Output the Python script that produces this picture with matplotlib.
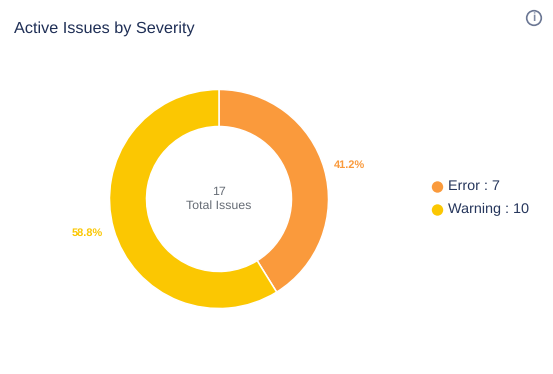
import matplotlib
matplotlib.use("Agg")
import matplotlib.pyplot as plt
from matplotlib.patches import Circle

W, H = 553, 374
labels = ["Error", "Warning"]
values = [7, 10]
colors = ["#FA9A3C", "#FBC702"]
pct_labels = ["41.2%", "58.8%"]
total = 17
title = "Active Issues by Severity"

plt.rcParams['font.family'] = ['Liberation Sans', 'DejaVu Sans']
plt.rcParams['text.hinting'] = 'no_hinting'
plt.rcParams['text.hinting_factor'] = 8
fig = plt.figure(figsize=(W/100, H/100), dpi=100, facecolor="white")
ax = fig.add_axes([0, 0, 1, 1])

def Y(y):
    return H - y

cx, cy, R = 219, 199, 109.5
ax.pie(values, colors=colors, startangle=90, counterclock=False,
       center=(cx, Y(cy)), radius=R, frame=True,
       wedgeprops=dict(width=37, edgecolor="white", linewidth=1.1))
ax.set_xlim(0, W); ax.set_ylim(0, H); ax.axis("off"); ax.set_aspect("equal")

ax.text(14, Y(28.5), title, fontsize=11.7, color="#1F2F56", va="center", ha="left")
ax.text(219, Y(191.5), str(total), fontsize=8.9, color="#666C75", ha="center", va="center")
ax.text(219, Y(205.5), "Total Issues", fontsize=8.9, color="#666C75", ha="center", va="center")
ax.text(349, Y(165), pct_labels[0], fontsize=7.9, fontweight="bold", color=colors[0], ha="center", va="center")
ax.text(87, Y(233), pct_labels[1], fontsize=7.9, fontweight="bold", color=colors[1], ha="center", va="center")

for y, l, v, c in zip([187, 210], labels, values, colors):
    ax.add_patch(Circle((437.5, Y(y)), 5.7, color=c, lw=0))
    ax.text(448, Y(y - 0.3), f"{l} : {v}", fontsize=10.4, color="#26365C", ha="left", va="center")

ax.add_patch(Circle((534, Y(18)), 7.3, fill=False, ec="#6B7794", lw=1.2))
ax.text(534, Y(18), "i", fontsize=8.5, fontweight="bold", color="#7F8AA3", ha="center", va="center")

fig.savefig("out.png", dpi=100)
